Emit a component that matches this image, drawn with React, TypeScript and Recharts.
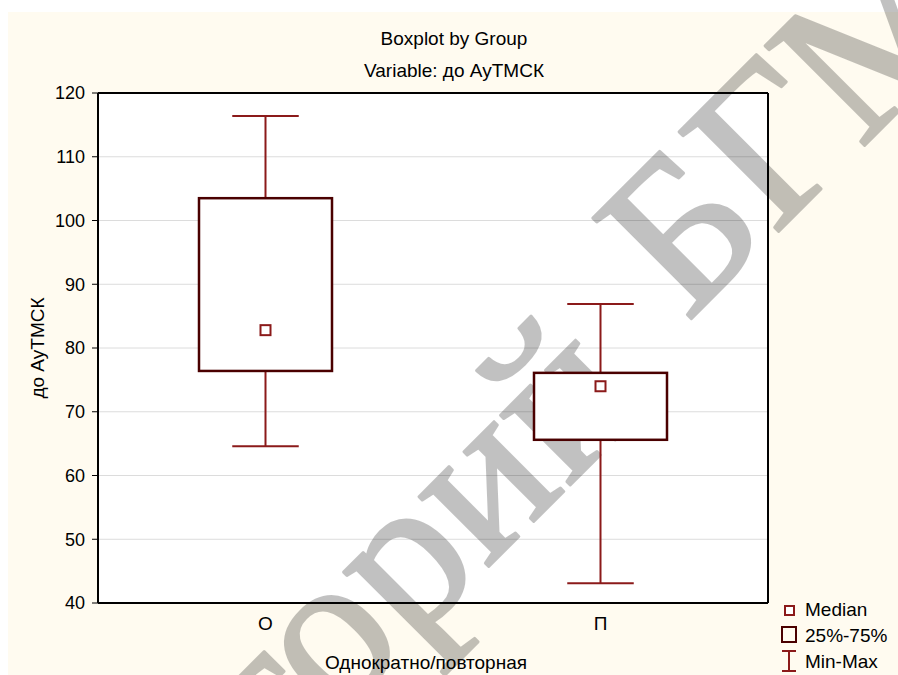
import React from 'react';
import { ComposedChart, Bar, Scatter, XAxis, YAxis, CartesianGrid, Customized } from 'recharts';

const groups = ['О', 'П'];
const minValues = [64.6, 43.1];
const q1Values = [76.4, 65.6];
const medianValues = [82.8, 74.0];
const q3Values = [103.5, 76.1];
const maxValues = [116.4, 86.9];
const yTicks = [40, 50, 60, 70, 80, 90, 100, 110, 120];
const legendLabels = ['Median', '25%-75%', 'Min-Max'];

const data = groups.map((name, i) => ({
  name,
  range: [minValues[i], maxValues[i]],
  min: minValues[i],
  q1: q1Values[i],
  median: medianValues[i],
  q3: q3Values[i],
  max: maxValues[i],
}));

const whiskerColor = '#8b1a1a';
const boxColor = '#4a0000';
const font = '"Liberation Sans", Arial, sans-serif';

const BoxShape = (props: any) => {
  const { x, y, width, height, payload } = props;
  const top = Math.min(y, y + height);
  const h = Math.abs(height);
  const { min, q1, q3, max } = payload;
  const toY = (v: number) => top + (h * (max - v)) / (max - min);
  const cx = x + width / 2;
  const cap = width / 4;
  return (
    <g>
      <line x1={cx} x2={cx} y1={toY(max)} y2={toY(min)} stroke={whiskerColor} strokeWidth={2} />
      <line x1={cx - cap} x2={cx + cap} y1={toY(max)} y2={toY(max)} stroke={whiskerColor} strokeWidth={2} />
      <line x1={cx - cap} x2={cx + cap} y1={toY(min)} y2={toY(min)} stroke={whiskerColor} strokeWidth={2} />
      <rect x={x} y={toY(q3)} width={width} height={toY(q1) - toY(q3)} fill="#fff" stroke={boxColor} strokeWidth={2.5} />
    </g>
  );
};

const MedianShape = (props: any) => {
  const { cx, cy } = props;
  return <rect x={cx - 5} y={cy - 5} width={10} height={10} fill="#fff" stroke={whiskerColor} strokeWidth={2} />;
};

const Labels = () => (
  <g fontFamily={font} fontSize={19} fill="#000">
    <text x={454} y={45} textAnchor="middle">Boxplot by Group</text>
    <text x={454} y={77} textAnchor="middle">Variable: до АуТМСК</text>
    <text x={426} y={669} textAnchor="middle">Однократно/повторная</text>
    <text transform="translate(44 348) rotate(-90)" textAnchor="middle">до АуТМСК</text>
  </g>
);

const LegendBox = () => (
  <g fontFamily={font} fontSize={19} fill="#000">
    <rect x={785} y={606} width={9} height={9} fill="#fff" stroke={whiskerColor} strokeWidth={2} />
    <text x={805} y={616}>{legendLabels[0]}</text>
    <rect x={782} y={627} width={14} height={15} fill="none" stroke={boxColor} strokeWidth={2} />
    <text x={805} y={642}>{legendLabels[1]}</text>
    <line x1={789} x2={789} y1={651} y2={671} stroke={whiskerColor} strokeWidth={2} />
    <line x1={782} x2={796} y1={651} y2={651} stroke={whiskerColor} strokeWidth={2} />
    <line x1={782} x2={796} y1={671} y2={671} stroke={whiskerColor} strokeWidth={2} />
    <text x={805} y={668}>{legendLabels[2]}</text>
  </g>
);

// watermark over the whole picture
const Watermark = () => (
  <g transform="translate(687 323) rotate(-45)" opacity={0.24}>
    <g fill="#000" stroke="#000" strokeWidth={3} strokeLinejoin="round" fontFamily='"Liberation Serif", serif' fontSize={215}>
      <text x={-86} y={32} textAnchor="end">Репозиторий</text>
      <text x={0}>БГМУ</text>
    </g>
  </g>
);

export default function App() {
  return (
    <div style={{ position: 'relative', width: 898, height: 675, background: '#fff' }}>
      <style>{`body{margin:0}`}</style>
      <div style={{ position: 'absolute', left: 8, top: 12, right: 0, bottom: 0, background: '#fffbf0' }} />
      <div style={{ position: 'absolute', left: 0, top: 0 }}>
        <ComposedChart width={898} height={675} data={data} margin={{ top: 93, right: 130, bottom: 42, left: 48 }}>
          <CartesianGrid vertical={false} stroke="#dcdcdc" fill="#fff" />
          <XAxis
            dataKey="name"
            tickLine={false}
            tickMargin={8}
            height={30}
            axisLine={{ stroke: '#000', strokeWidth: 2 }}
            tick={{ fontSize: 19, fill: '#000', fontFamily: font }}
          />
          <XAxis xAxisId="bin" dataKey="name" mirror height={1} axisLine={false} tick={false} tickSize={5} tickLine={{ stroke: '#000' }} />
          <XAxis xAxisId="top" dataKey="name" orientation="top" mirror height={1} tick={false} tickSize={5} axisLine={{ stroke: '#000', strokeWidth: 2 }} tickLine={{ stroke: '#000' }} />
          <YAxis
            domain={[40, 120]}
            ticks={yTicks}
            width={50}
            tickSize={6}
            tickMargin={7}
            axisLine={{ stroke: '#000', strokeWidth: 2 }}
            tickLine={{ stroke: '#000' }}
            tick={{ fontSize: 18, fill: '#000', fontFamily: font }}
          />
          <YAxis yAxisId="r" orientation="right" mirror width={1} domain={[40, 120]} ticks={yTicks} tick={false} tickSize={5} axisLine={{ stroke: '#000', strokeWidth: 2 }} tickLine={{ stroke: '#000' }} />
          <Bar dataKey="range" barSize={133} shape={<BoxShape />} isAnimationActive={false} />
          <Scatter dataKey="median" shape={<MedianShape />} isAnimationActive={false} />
          <Customized component={Labels} />
          <Customized component={LegendBox} />
          <Customized component={Watermark} />
        </ComposedChart>
      </div>
    </div>
  );
}
